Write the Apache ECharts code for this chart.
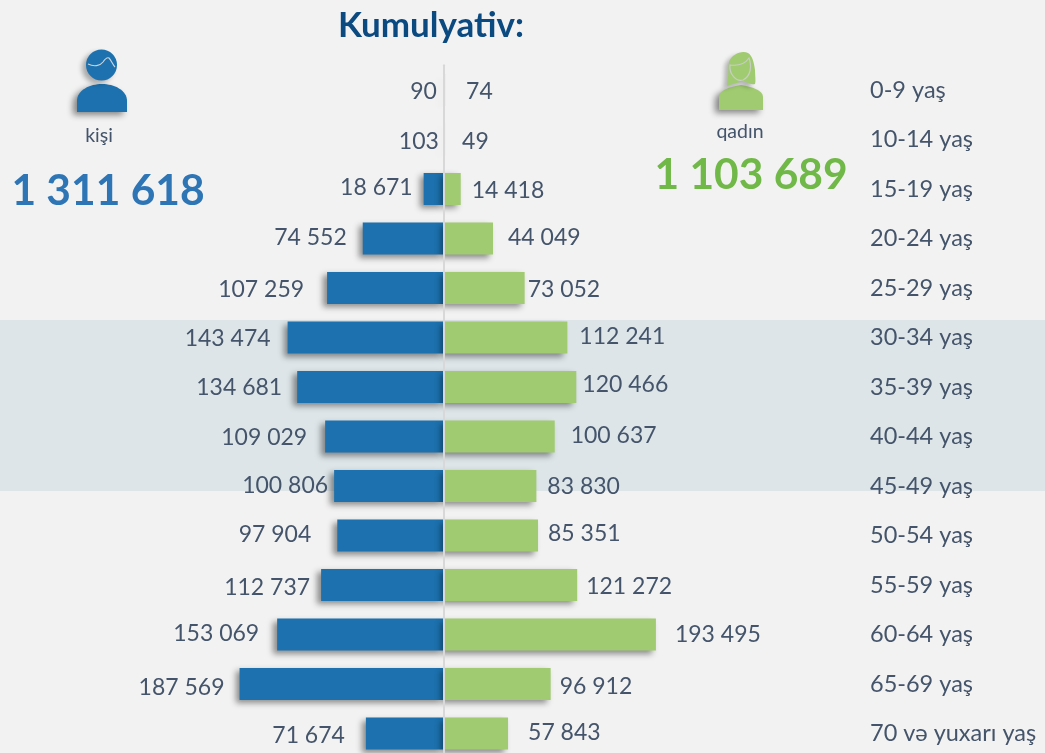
<!DOCTYPE html>
<html><head><meta charset="utf-8">
<style>html,body{margin:0;padding:0;background:#f2f2f2;overflow:hidden}#c{width:1045px;height:753px}</style>
<script src="https://cdn.jsdelivr.net/npm/echarts@6/dist/echarts.min.js"></script>
</head><body><div id="c"></div>
<script>
const categories = ['0-9 yaş','10-14 yaş','15-19 yaş','20-24 yaş','25-29 yaş','30-34 yaş','35-39 yaş','40-44 yaş','45-49 yaş','50-54 yaş','55-59 yaş','60-64 yaş','65-69 yaş','70 və yuxarı yaş'];
const kishi = [90,103,18671,74552,107259,143474,134681,109029,100806,97904,112737,153069,187569,71674];
const qadin = [74,49,14418,44049,73052,112241,120466,100637,83830,85351,121272,193495,96912,57843];
const titleText = 'Kumulyativ:';
const totalKishi = '1 311 618', totalQadin = '1 103 689';
const kishiLabel = 'kişi', qadinLabel = 'qadın';
// hand placement of the value labels: [dx, dy] from the bar's end
const kishiLabelShift = [[-2,2],[0,2],[-6,-1],[-11,-1],[-18,2],[-12,1],[-10,1],[-13,1],[-1,0],[-21,-1],[-6,3],[-13,-1],[-10,4],[-16,2]];
const qadinLabelShift = [[16,2],[12,2],[6,2],[10,-1],[-2,2],[7,-1],[1,-2],[11,-1],[6,1],[5,-2],[4,2],[14,0],[4,3],[15,-1]];

const fmt = v => String(v).replace(/\B(?=(\d{3})+$)/g,' ');
const FONT = 'Lato';
const TXT = '#44546a', BLUE = '#1c71ae', GREEN = '#a0cb70';
const rowTop = 65.25, rowsH = 693;
function series(name, data, shift, color, xi, pos, sx){
  return {name, type:'bar', xAxisIndex:xi, yAxisIndex:xi, barWidth:32, z:3,
    data:data.map((v,i)=>({value:v, label:{offset:shift[i]}})),
    itemStyle:{color, shadowColor:'rgba(0,0,0,0.42)', shadowBlur:6, shadowOffsetX:sx, shadowOffsetY:3},
    label:{show:true, position:pos, distance:5, color:TXT, fontFamily:FONT, fontSize:23, formatter:p=>fmt(p.value)},
    silent:true, animation:false};
}
function pathBox(d){ const r = echarts.graphic.makePath(d).getBoundingRect(); return {pathData:d,x:r.x,y:r.y,width:r.width,height:r.height,layout:'cover'}; }
function iconShape(d, fill, blur, alpha){
  return {type:'path', shape:pathBox(d),
    style:{fill, shadowColor:'rgba(0,0,0,'+alpha+')', shadowBlur:blur, shadowOffsetX:-4, shadowOffsetY:3}};
}
function iconLine(d, stroke, fill){
  return {type:'path', shape:pathBox(d), style:{fill:fill||'none', stroke, lineWidth:1.2}};
}
const circlePath = (cx,cy,r)=>`M${cx-r} ${cy} A${r} ${r} 0 1 1 ${cx+r} ${cy} A${r} ${r} 0 1 1 ${cx-r} ${cy} Z`;
const chart = echarts.init(document.getElementById('c'),null,{renderer:'canvas'});
chart.setOption({
  animation:false, backgroundColor:'#f2f2f2',
  grid:[{left:226,top:rowTop,width:218,height:rowsH,outerBoundsMode:'none'},{left:445,top:rowTop,width:218,height:rowsH,outerBoundsMode:'none'}],
  xAxis:[
    {gridIndex:0,type:'value',inverse:true,min:0,max:200000,show:false},
    {gridIndex:1,type:'value',min:0,max:200000,show:false}],
  yAxis:[
    {gridIndex:0,type:'category',inverse:true,data:categories,position:'right',axisTick:{show:false},axisLabel:{show:false},
     axisLine:{show:true,onZero:false,lineStyle:{color:'#d8d8d8',width:2}},z:5},
    {gridIndex:1,type:'category',inverse:true,data:categories,position:'right',axisTick:{show:false},axisLine:{show:false},
     axisLabel:{margin:207,align:'left',color:TXT,fontFamily:FONT,fontSize:23.5}}],
  series:[
    series('kişi',kishi,kishiLabelShift,BLUE,0,'left',-4),
    series('qadın',qadin,qadinLabelShift,GREEN,1,'right',-4),
    {type:'custom',coordinateSystem:'none',silent:true,data:[0],z:4,renderItem:()=>({type:'group',children:[
      iconShape('M77 112 L77 101 C77 90 90 84 102 84 C114 84 127 90 127 101 L127 112 Z',BLUE,6,0.45),
      iconShape(circlePath(101.5,65,15.5),BLUE,5,0.3),
      iconLine('M88 64 C94 67 100 66 103 62 C105 59 107 57 109 58 C111 60 113 65 115 67','#c9d6df'),
      iconShape('M719 110 L719 97 C719 90 730 87 741 85 C752 87 763 90 763 97 L763 110 Z',GREEN,6,0.45),
      iconShape('M727 86 C729 75 728 68 729 62 C732 54 742 50 748 53 C752 55 754 62 755 70 C755 76 756 81 755 84 C750 85 746 82 744 81 L733 84 Z',GREEN,4,0.25),
      iconLine('M730 65 C738 66 745 64 749 58 C752 66 751 76 743 80 C736 82 729 74 730 65 Z','#c6cfc0',GREEN)
    ]})}],
  graphic:[
    {type:'rect',z:-10,silent:true,shape:{x:0,y:320,width:1045,height:171},style:{fill:'#dde5e9'}},
    {type:'text',silent:true,style:{x:431,y:26,text:titleText,align:'center',verticalAlign:'middle',fill:'#0b4a80',font:'bold 35px '+FONT}},
    {type:'text',silent:true,style:{x:99,y:136,text:kishiLabel,align:'center',verticalAlign:'middle',fill:TXT,font:'19.5px '+FONT}},
    {type:'text',silent:true,style:{x:108,y:191,text:totalKishi,align:'center',verticalAlign:'middle',fill:'#2e75b6',font:'bold 42.5px '+FONT}},
    {type:'text',silent:true,style:{x:740,y:132,text:qadinLabel,align:'center',verticalAlign:'middle',fill:TXT,font:'19.5px '+FONT}},
    {type:'text',silent:true,style:{x:751,y:175,text:totalQadin,align:'center',verticalAlign:'middle',fill:'#70b847',font:'bold 42.5px '+FONT}}
  ]
});
</script></body></html>
